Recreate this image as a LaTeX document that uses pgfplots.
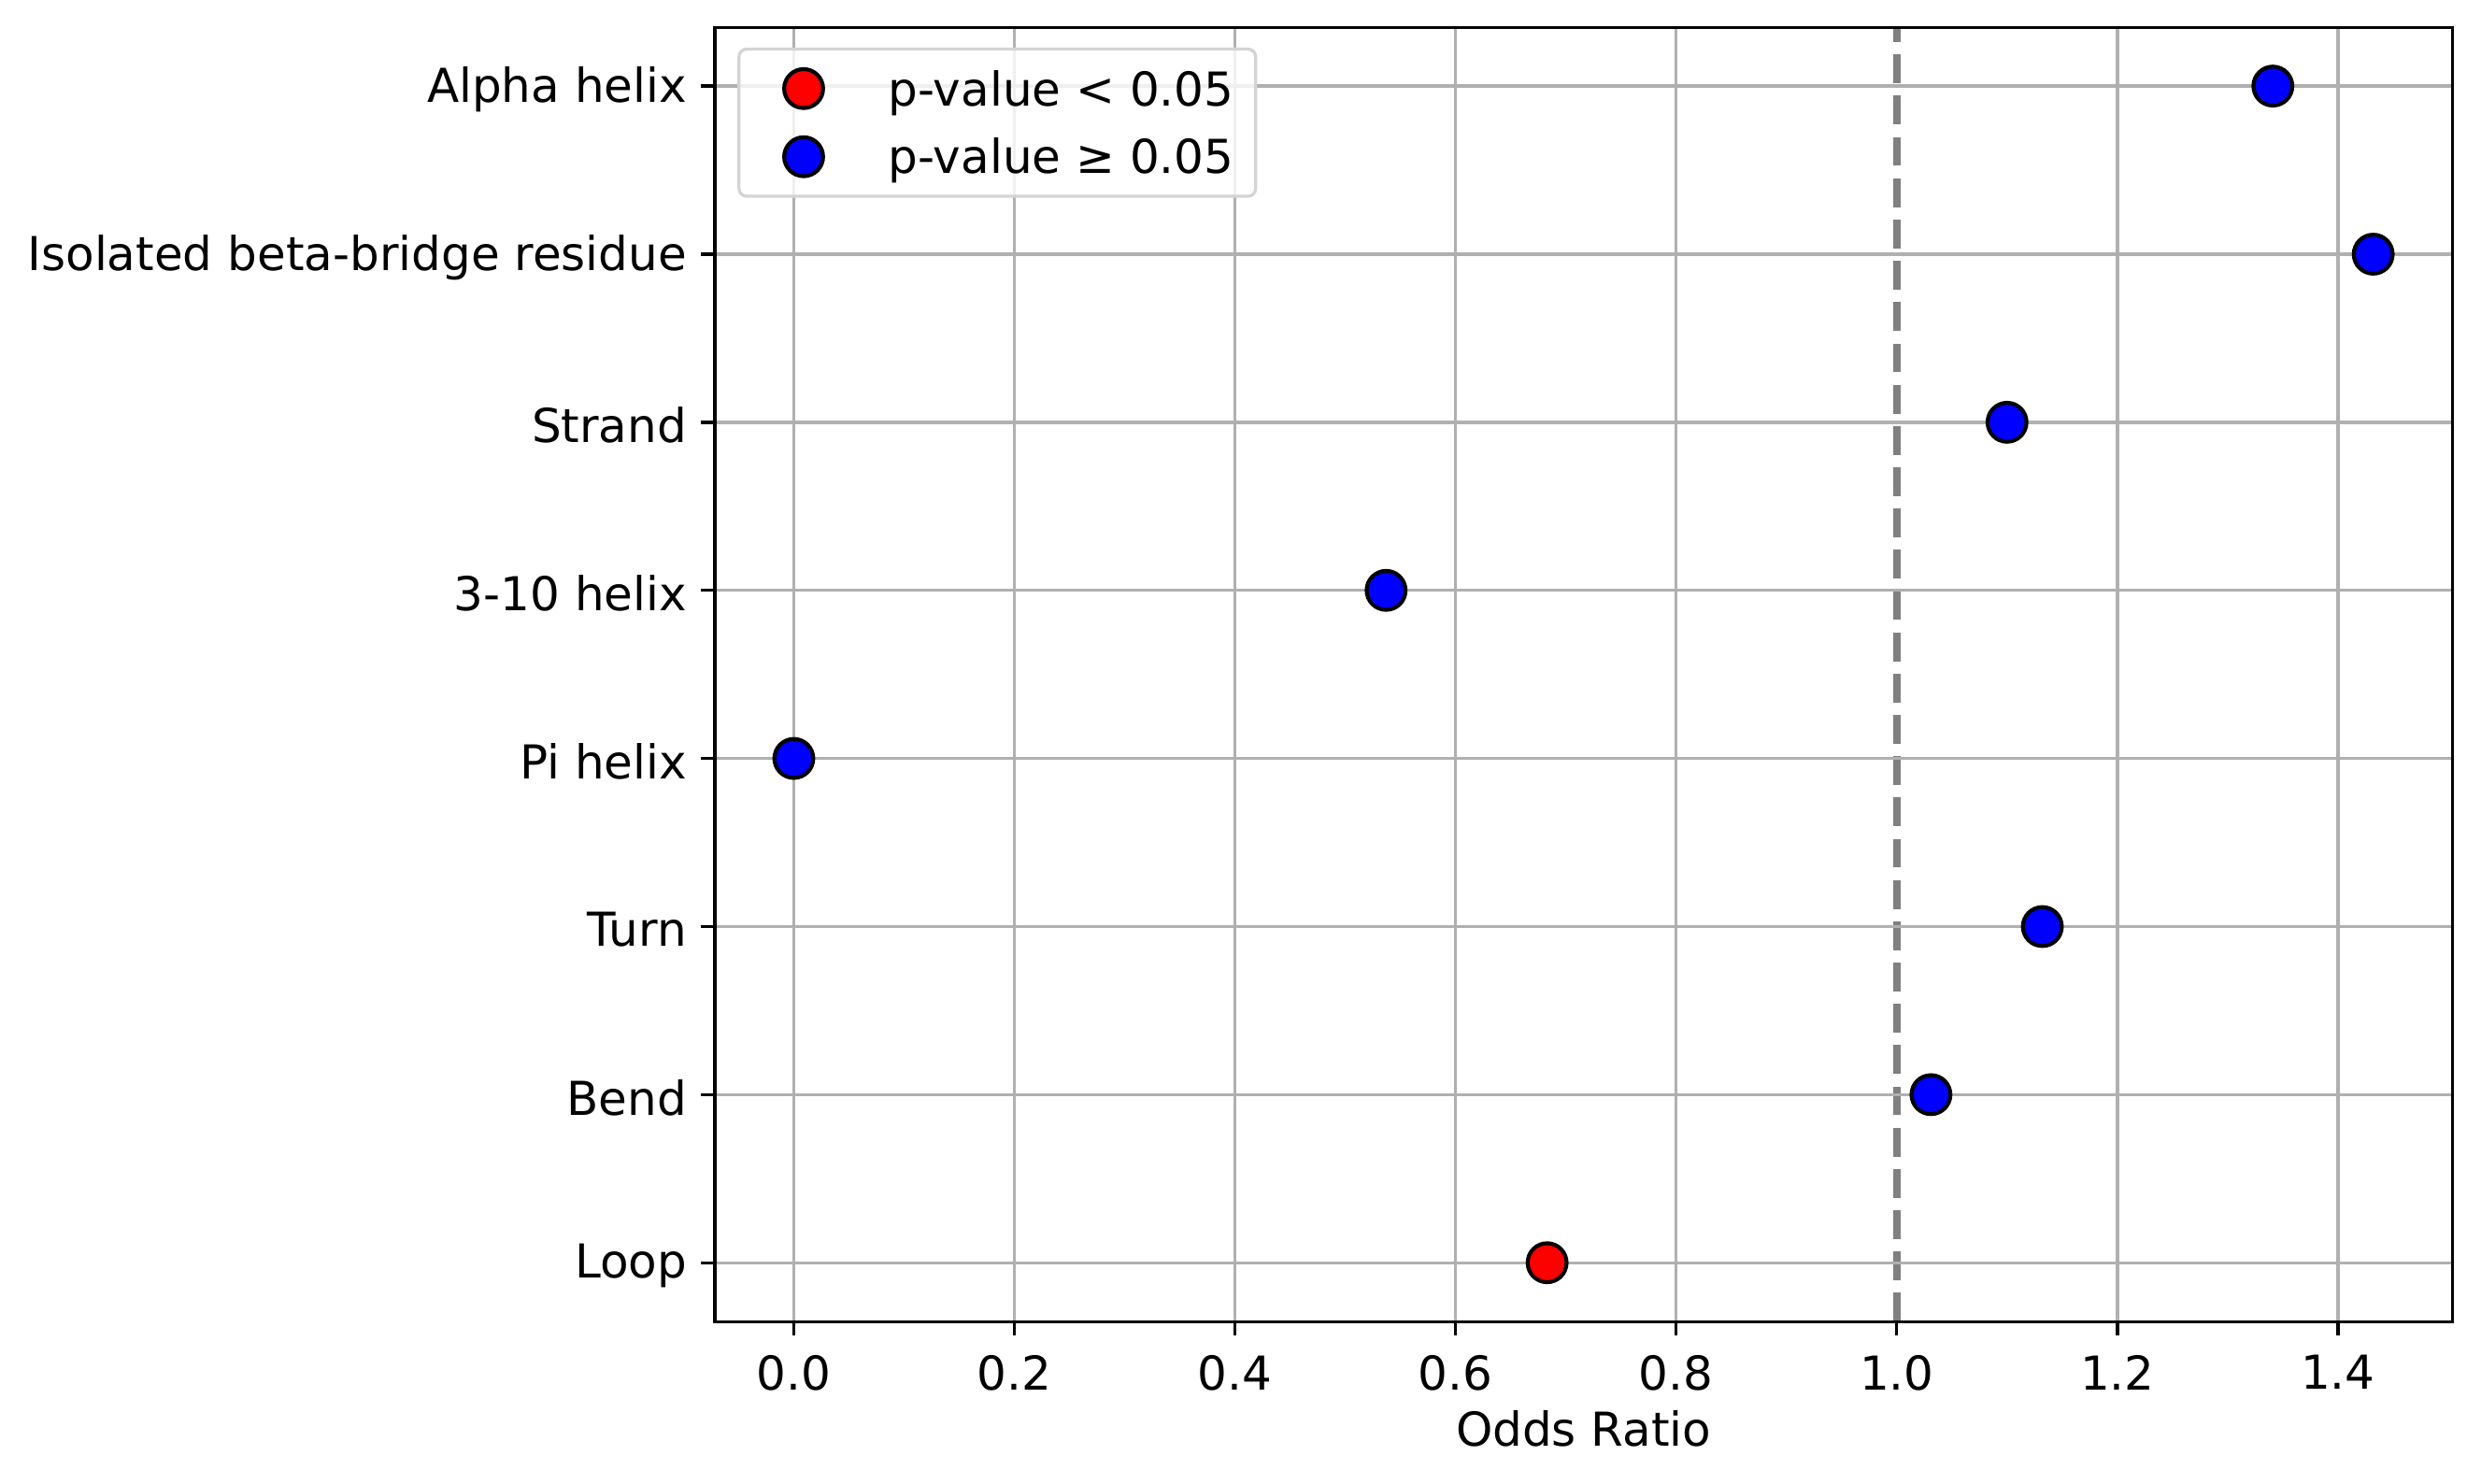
\documentclass[border=0pt]{standalone}
\usepackage{fontspec}
\setmainfont{DejaVu Sans}
\usepackage{pgfplots}
\pgfplotsset{compat=1.18}
\newcommand{\fs}{\fontsize{12}{14.4}\selectfont}
\pgfplotsset{
  pt/.style={only marks, mark=*, mark size=5pt,
    mark options={draw=black, line width=1pt, fill=#1},
    legend image code/.code={%
      \path[draw=none, fill=none] (-11pt,-8.75pt) rectangle (21.7pt,8.75pt);
      \draw[opacity=1, fill opacity=1, draw opacity=1, mark=*, mark size=5pt, mark options={draw=black, line width=1pt, fill=#1, opacity=1}] plot coordinates {(0pt,0pt)};}
  }
}
\begin{document}
\begin{tikzpicture}
\path[use as bounding box] (-183.6pt,-41.5pt) rectangle (453.6pt,339.4pt);
\begin{axis}[
  at={(0,0)}, anchor=south west,
  scale only axis, width=446.2pt, height=332.4pt,
  xmin=-0.0716, xmax=1.5036, ymin=-0.35, ymax=7.35,
  axis on top,
  axis line style={black, line width=0.8pt},
  tick align=outside, major tick length=3.5pt,
  every tick/.style={black, line width=0.8pt},
  xtick pos=bottom, ytick pos=left,
  xtick={0,0.2,0.4,0.6,0.8,1.2,1.4},
  xticklabels={0.0,0.2,0.4,0.6,0.8,1.2,1.4},
  extra x ticks={1.0},
  extra x tick labels={1.0},
  extra x tick style={grid=none, major tick length=3.5pt, tick align=outside},
  ytick={0,1,2,3,4,5,6,7},
  yticklabels={Loop,Bend,Turn,Pi helix,3-10 helix,Strand,Isolated beta-bridge residue,Alpha helix},
  grid=major,
  major grid style={color=black!31, line width=0.8pt},
  tick label style={font=\fs},
  xticklabel style={anchor=north, inner sep=0pt, yshift=-5.0pt},
  yticklabel style={anchor=east, inner sep=0pt, xshift=-3.5pt, yshift=-0.8pt},
  xlabel={Odds Ratio},
  xlabel style={font=\fs, at={(axis description cs:0.5,0)}, anchor=base, yshift=-32.0pt, inner sep=0pt},
  legend cell align=left,
  legend style={at={(0,1)}, anchor=north west, xshift=5.8pt, yshift=-5.2pt,
    draw=black!17, line width=0.8pt, rounded corners=2pt,
    fill=white, fill opacity=0.8, text opacity=1,
    inner xsep=5.6pt, inner ysep=1.4pt, row sep=0pt, column sep=0pt,
    nodes={inner sep=0pt, text height=8.75pt, text depth=0pt},
    font=\fs},
]
\addplot[pt=red] coordinates {(0.683,0)};
\addlegendentry{p-value < 0.05}
\addplot[pt=blue] coordinates {
  (1.031,1) (1.132,2) (0.000,3) (0.537,4) (1.100,5) (1.432,6) (1.341,7)
};
\addlegendentry{p-value ≥ 0.05}
\addplot[forget plot, color=black!50, line width=2pt, dash pattern=on 7.4pt off 3.2pt] coordinates {(1,-0.35) (1,7.35)};
\end{axis}
\end{tikzpicture}
\end{document}
